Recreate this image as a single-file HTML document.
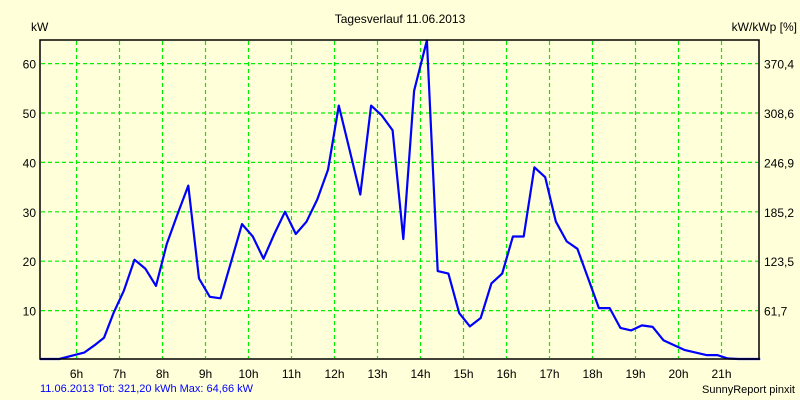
<!DOCTYPE html>
<html><head><meta charset="utf-8"><style>
body{margin:0;background:#ffffd9;}
svg{display:block;font-family:"Liberation Sans",sans-serif;}
</style></head><body>
<svg id="c" width="800" height="400">
<rect width="800" height="400" fill="#ffffd9"/>
<text x="400" y="23" font-size="12" text-anchor="middle">Tagesverlauf 11.06.2013</text>
<text x="31" y="31" font-size="12">kW</text>
<text x="797" y="31" font-size="12" text-anchor="end">kW/kWp [%]</text>
<g id="grid"></g>
<g id="ticks"></g>
<polyline id="line" fill="none" stroke="#0000ff" stroke-width="2.2" stroke-linejoin="round"/>
<rect x="40" y="40" width="719" height="319" fill="none" stroke="#000" stroke-width="1.5"/>
<text x="40" y="392" font-size="11" fill="#0000ff">11.06.2013 Tot: 321,20 kWh Max: 64,66 kW</text>
<text x="795" y="393" font-size="11" text-anchor="end">SunnyReport pinxit</text>
</svg>
<script>
const hourTicks=[6,7,8,9,10,11,12,13,14,15,16,17,18,19,20,21];
const kwTicks=[10,20,30,40,50,60];
const pctLabels=["61,7","123,5","185,2","246,9","308,6","370,4"];
const times=[5.15,5.6,5.95,6.18,6.42,6.64,6.86,7.1,7.35,7.6,7.85,8.1,8.35,8.6,8.85,9.1,9.35,9.6,9.85,10.1,10.35,10.6,10.85,11.1,11.35,11.6,11.85,12.1,12.35,12.6,12.85,13.1,13.35,13.6,13.85,14.15,14.4,14.65,14.9,15.15,15.4,15.65,15.9,16.15,16.4,16.65,16.9,17.15,17.4,17.65,17.9,18.15,18.4,18.65,18.9,19.15,19.4,19.65,19.9,20.15,20.4,20.65,20.9,21.15,21.4,21.9];
const power=[0,0,1,1.5,3,4.5,9.5,14,20.3,18.5,15,23.5,29.5,35.3,16.5,12.8,12.5,20,27.5,25,20.5,25.5,30,25.5,28,32.5,38.5,51.5,42.5,33.5,51.5,49.5,46.5,24.5,54.5,64.7,18,17.5,9.5,6.8,8.5,15.5,17.5,25,25,39,37,28,24,22.5,16.5,10.5,10.5,6.5,6,7,6.7,4,3,2,1.5,1,1,0.3,0,0];
const X=t=>76.5+(t-6)*43;
const Y=v=>360-v*4.94;
const ns="http://www.w3.org/2000/svg";
const grid=document.getElementById('grid'),ticks=document.getElementById('ticks');
function mk(tag,attrs,parent){const e=document.createElementNS(ns,tag);for(const k in attrs)e.setAttribute(k,attrs[k]);parent.appendChild(e);return e;}
hourTicks.forEach(h=>{
  const l=mk('line',{x1:X(h),x2:X(h),y1:41,y2:358,stroke:'#00ee00','stroke-width':1.2,'stroke-dasharray':'4 3'},grid);
  
  
  const t=mk('text',{x:X(h),y:378,'font-size':12,'text-anchor':'middle'},ticks);
  t.textContent=h+'h';
  
  
});
kwTicks.forEach((v,i)=>{
  const l=mk('line',{x1:41,x2:758,y1:Y(v),y2:Y(v),stroke:'#00ee00','stroke-width':1.2,'stroke-dasharray':'4 3'},grid);
  
  
  const t=mk('text',{x:36,y:Y(v)+5,'font-size':12,'text-anchor':'end'},ticks);
  t.textContent=v;
  
  
  const r=mk('text',{x:764,y:Y(v)+5,'font-size':12},ticks);
  r.textContent=pctLabels[i];
  
  
});
document.getElementById('line').setAttribute('points',times.map((t,i)=>X(t).toFixed(1)+','+Math.min(359,Y(power[i])).toFixed(1)).join(' '));
</script>
</body></html>
